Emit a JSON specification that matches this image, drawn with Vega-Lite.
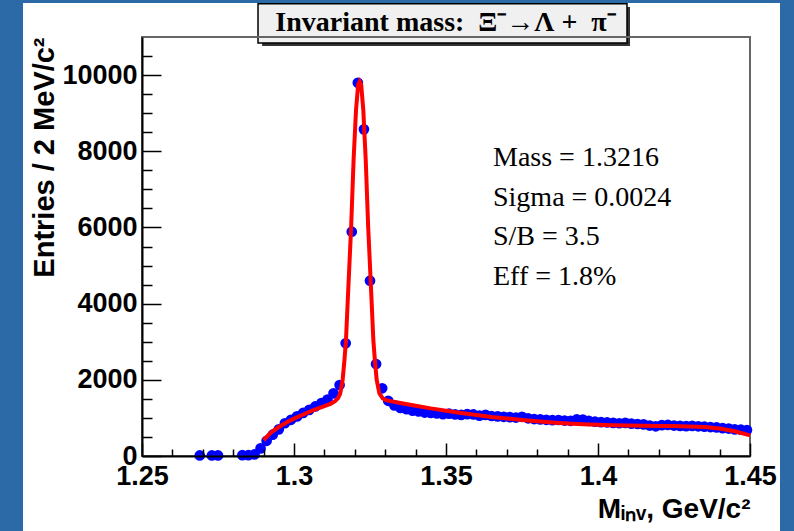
{
  "$schema": "https://vega.github.io/schema/vega-lite/v6.json",
  "width": 608,
  "height": 419,
  "autosize": "none",
  "padding": {"left": 142, "top": 37, "right": 44, "bottom": 75},
  "background": "#2b6aa6",
  "config": {"view": {"stroke": null}},
  "datasets": {
    "hist": [
      {"m": 1.269, "n": 15}, {"m": 1.273, "n": 15}, {"m": 1.275, "n": 15},
      {"m": 1.283, "n": 20}, {"m": 1.285, "n": 20}, {"m": 1.287, "n": 40},
      {"m": 1.289, "n": 200}, {"m": 1.291, "n": 400}, {"m": 1.293, "n": 560},
      {"m": 1.295, "n": 700}, {"m": 1.297, "n": 860}, {"m": 1.299, "n": 950},
      {"m": 1.301, "n": 1040}, {"m": 1.303, "n": 1130}, {"m": 1.305, "n": 1210},
      {"m": 1.307, "n": 1300}, {"m": 1.309, "n": 1390}, {"m": 1.311, "n": 1480},
      {"m": 1.313, "n": 1645}, {"m": 1.315, "n": 1864}, {"m": 1.317, "n": 2958},
      {"m": 1.319, "n": 5888}, {"m": 1.321, "n": 9799}, {"m": 1.323, "n": 8576},
      {"m": 1.325, "n": 4602}, {"m": 1.327, "n": 2415}, {"m": 1.329, "n": 1777},
      {"m": 1.331, "n": 1450}, {"m": 1.333, "n": 1330}, {"m": 1.335, "n": 1260},
      {"m": 1.337, "n": 1230}, {"m": 1.339, "n": 1190}, {"m": 1.341, "n": 1170},
      {"m": 1.343, "n": 1140}, {"m": 1.345, "n": 1130}, {"m": 1.347, "n": 1120},
      {"m": 1.349, "n": 1100}, {"m": 1.351, "n": 1110}, {"m": 1.353, "n": 1090},
      {"m": 1.355, "n": 1080}, {"m": 1.357, "n": 1100}, {"m": 1.359, "n": 1090},
      {"m": 1.361, "n": 1060}, {"m": 1.363, "n": 1080}, {"m": 1.365, "n": 1050},
      {"m": 1.367, "n": 1040}, {"m": 1.369, "n": 1030}, {"m": 1.371, "n": 1020},
      {"m": 1.373, "n": 1010}, {"m": 1.375, "n": 1030}, {"m": 1.377, "n": 990},
      {"m": 1.379, "n": 970}, {"m": 1.381, "n": 960}, {"m": 1.383, "n": 950},
      {"m": 1.385, "n": 940}, {"m": 1.387, "n": 945}, {"m": 1.389, "n": 930},
      {"m": 1.391, "n": 925}, {"m": 1.393, "n": 960}, {"m": 1.395, "n": 955},
      {"m": 1.397, "n": 920}, {"m": 1.399, "n": 900}, {"m": 1.401, "n": 890},
      {"m": 1.403, "n": 880}, {"m": 1.405, "n": 870}, {"m": 1.407, "n": 860},
      {"m": 1.409, "n": 870}, {"m": 1.411, "n": 850}, {"m": 1.413, "n": 840},
      {"m": 1.415, "n": 830}, {"m": 1.417, "n": 800}, {"m": 1.419, "n": 780},
      {"m": 1.421, "n": 810}, {"m": 1.423, "n": 815}, {"m": 1.425, "n": 800},
      {"m": 1.427, "n": 790}, {"m": 1.429, "n": 785}, {"m": 1.431, "n": 790},
      {"m": 1.433, "n": 780}, {"m": 1.435, "n": 770}, {"m": 1.437, "n": 760},
      {"m": 1.439, "n": 750}, {"m": 1.441, "n": 730}, {"m": 1.443, "n": 720},
      {"m": 1.445, "n": 700}, {"m": 1.447, "n": 690}, {"m": 1.449, "n": 680}
    ],
    "fit": [
      {"m": 1.29, "f": 420}, {"m": 1.2925, "f": 620}, {"m": 1.295, "f": 760},
      {"m": 1.2975, "f": 880}, {"m": 1.3, "f": 980}, {"m": 1.3025, "f": 1070},
      {"m": 1.305, "f": 1160}, {"m": 1.3075, "f": 1240}, {"m": 1.31, "f": 1310},
      {"m": 1.312, "f": 1370}, {"m": 1.3135, "f": 1440}, {"m": 1.3145, "f": 1520},
      {"m": 1.3152, "f": 1640}, {"m": 1.316, "f": 1995}, {"m": 1.3166, "f": 2520},
      {"m": 1.3171, "f": 3045}, {"m": 1.3178, "f": 4287}, {"m": 1.3188, "f": 6018},
      {"m": 1.3196, "f": 7770}, {"m": 1.3204, "f": 9082}, {"m": 1.3211, "f": 9750},
      {"m": 1.3216, "f": 9830}, {"m": 1.3221, "f": 9750}, {"m": 1.3228, "f": 9082},
      {"m": 1.3236, "f": 7770}, {"m": 1.3244, "f": 6018}, {"m": 1.3254, "f": 4287},
      {"m": 1.3261, "f": 3045}, {"m": 1.3266, "f": 2520}, {"m": 1.3272, "f": 1995},
      {"m": 1.3281, "f": 1640}, {"m": 1.3292, "f": 1510}, {"m": 1.3305, "f": 1460},
      {"m": 1.335, "f": 1390}, {"m": 1.34, "f": 1320}, {"m": 1.345, "f": 1250},
      {"m": 1.35, "f": 1190}, {"m": 1.355, "f": 1130}, {"m": 1.36, "f": 1075},
      {"m": 1.365, "f": 1025}, {"m": 1.37, "f": 985}, {"m": 1.375, "f": 945},
      {"m": 1.38, "f": 910}, {"m": 1.385, "f": 880}, {"m": 1.39, "f": 855},
      {"m": 1.395, "f": 835}, {"m": 1.4, "f": 820}, {"m": 1.405, "f": 810},
      {"m": 1.41, "f": 800}, {"m": 1.415, "f": 795}, {"m": 1.42, "f": 790},
      {"m": 1.425, "f": 785}, {"m": 1.43, "f": 775}, {"m": 1.435, "f": 760},
      {"m": 1.44, "f": 720}, {"m": 1.445, "f": 650}, {"m": 1.45, "f": 540}
    ]
  },
  "resolve": {"axis": {"x": "independent", "y": "independent"}},
  "layer": [
    {
      "data": {"values": [{}]},
      "mark": {"type": "rect", "fill": "white"},
      "encoding": {
        "x": {"datum": 1.21086, "type": "quantitative", "axis": null, "scale": {"domain": [1.25, 1.45], "nice": false, "zero": false}},
        "x2": {"datum": 1.45987},
        "y": {"datum": 11893, "type": "quantitative", "axis": null, "scale": {"domain": [0, 11000], "nice": false}},
        "y2": {"datum": -1970}
      }
    },
    {
      "data": {"values": [{}]},
      "mark": {"type": "rect", "fill": "#333333"},
      "encoding": {
        "x": {"datum": 1.2895, "type": "quantitative", "axis": null},
        "x2": {"datum": 1.41053},
        "y": {"datum": 11788, "type": "quantitative", "axis": null},
        "y2": {"datum": 10764}
      }
    },
    {
      "data": {"values": [{}]},
      "mark": {"type": "rect", "fill": "#f0f0f0", "stroke": "black", "strokeWidth": 1.5},
      "encoding": {
        "x": {"datum": 1.28816, "type": "quantitative", "axis": null},
        "x2": {"datum": 1.40954},
        "y": {"datum": 11870, "type": "quantitative", "axis": null},
        "y2": {"datum": 10842}
      }
    },
    {
      "data": {"values": [{}]},
      "mark": {"type": "text", "font": "Liberation Serif", "fontWeight": "bold", "fontSize": 28, "align": "center", "baseline": "middle", "color": "black", "text": "Invariant mass:\u00a0\u00a0Ξ⁻→Λ +\u00a0\u00a0π⁻"},
      "encoding": {
        "x": {"datum": 1.34984, "type": "quantitative", "axis": null},
        "y": {"datum": 11360, "type": "quantitative", "axis": null}
      }
    },
    {
      "data": {"values": [{}]},
      "mark": {"type": "rect", "fill": null, "stroke": "#666666", "strokeWidth": 2},
      "encoding": {
        "x": {"datum": 1.25, "type": "quantitative", "axis": null},
        "x2": {"datum": 1.45},
        "y": {"datum": 11000, "type": "quantitative", "axis": null},
        "y2": {"datum": 0}
      }
    },
    {
      "data": {"name": "hist"},
      "mark": {"type": "point", "shape": "circle", "filled": true, "color": "#0000ff", "size": 115, "opacity": 1},
      "encoding": {
        "x": {
          "field": "m", "type": "quantitative",
          "scale": {"domain": [1.25, 1.45], "nice": false, "zero": false},
          "axis": {
            "orient": "bottom",
            "title": "Mᵢₙᵥ, GeV/c²",
            "values": [1.25, 1.3, 1.35, 1.4, 1.45],
            "format": ".2~f",
            "tickSize": -13,
            "tickColor": "black", "tickWidth": 1.5,
            "domainColor": "black", "domainWidth": 2,
            "labelFont": "Liberation Sans", "labelFontWeight": "bold", "labelFontSize": 27, "labelColor": "black",
            "labelPadding": 20, "labelFlush": false, "labelOverlap": false,
            "titleFont": "Liberation Sans", "titleFontWeight": "bold", "titleFontSize": 28, "titleColor": "black",
            "titleAlign": "right", "titleAnchor": "end", "titleX": 608, "titleY": 61, "titleBaseline": "alphabetic",
            "grid": false, "zindex": 1
          }
        },
        "y": {
          "field": "n", "type": "quantitative",
          "scale": {"domain": [0, 11000], "nice": false},
          "axis": {
            "orient": "left",
            "title": "Entries / 2 MeV/c²",
            "values": [0, 2000, 4000, 6000, 8000, 10000],
            "format": "d",
            "tickSize": -19,
            "tickColor": "black", "tickWidth": 1.5,
            "domainColor": "black", "domainWidth": 2,
            "labelFont": "Liberation Sans", "labelFontWeight": "bold", "labelFontSize": 27, "labelColor": "black",
            "labelPadding": 24, "labelFlush": false, "labelOverlap": false,
            "titleFont": "Liberation Sans", "titleFontWeight": "bold", "titleFontSize": 29, "titleColor": "black",
            "titleAngle": 270, "titleAlign": "right", "titleX": -89, "titleY": 0, "titleBaseline": "alphabetic",
            "grid": false, "zindex": 1
          }
        }
      }
    },
    {
      "data": {"name": "fit"},
      "mark": {"type": "line", "color": "#ff0000", "strokeWidth": 4},
      "encoding": {
        "x": {
          "field": "m", "type": "quantitative",
          "axis": {
            "orient": "bottom", "title": null, "labels": false, "domain": false, "grid": false,
            "values": [1.26, 1.27, 1.28, 1.29, 1.31, 1.32, 1.33, 1.34, 1.36, 1.37, 1.38, 1.39, 1.41, 1.42, 1.43, 1.44],
            "tickSize": -7, "tickColor": "black", "tickWidth": 1.5, "zindex": 1
          }
        },
        "y": {
          "field": "f", "type": "quantitative",
          "axis": {
            "orient": "left", "title": null, "labels": false, "domain": false, "grid": false,
            "values": [500, 1000, 1500, 2500, 3000, 3500, 4500, 5000, 5500, 6500, 7000, 7500, 8500, 9000, 9500, 10500],
            "tickSize": -10, "tickColor": "black", "tickWidth": 1.5, "zindex": 1
          }
        }
      }
    },
    {
      "data": {"values": [{}]},
      "mark": {"type": "text", "font": "Liberation Serif", "fontSize": 28, "align": "left", "baseline": "middle", "lineHeight": 39.6, "color": "black",
        "text": ["Mass = 1.3216", "Sigma = 0.0024", "S/B = 3.5", "Eff = 1.8%"]},
      "encoding": {
        "x": {"datum": 1.36546, "type": "quantitative", "axis": null},
        "y": {"datum": 7823, "type": "quantitative", "axis": null}
      }
    }
  ]
}
